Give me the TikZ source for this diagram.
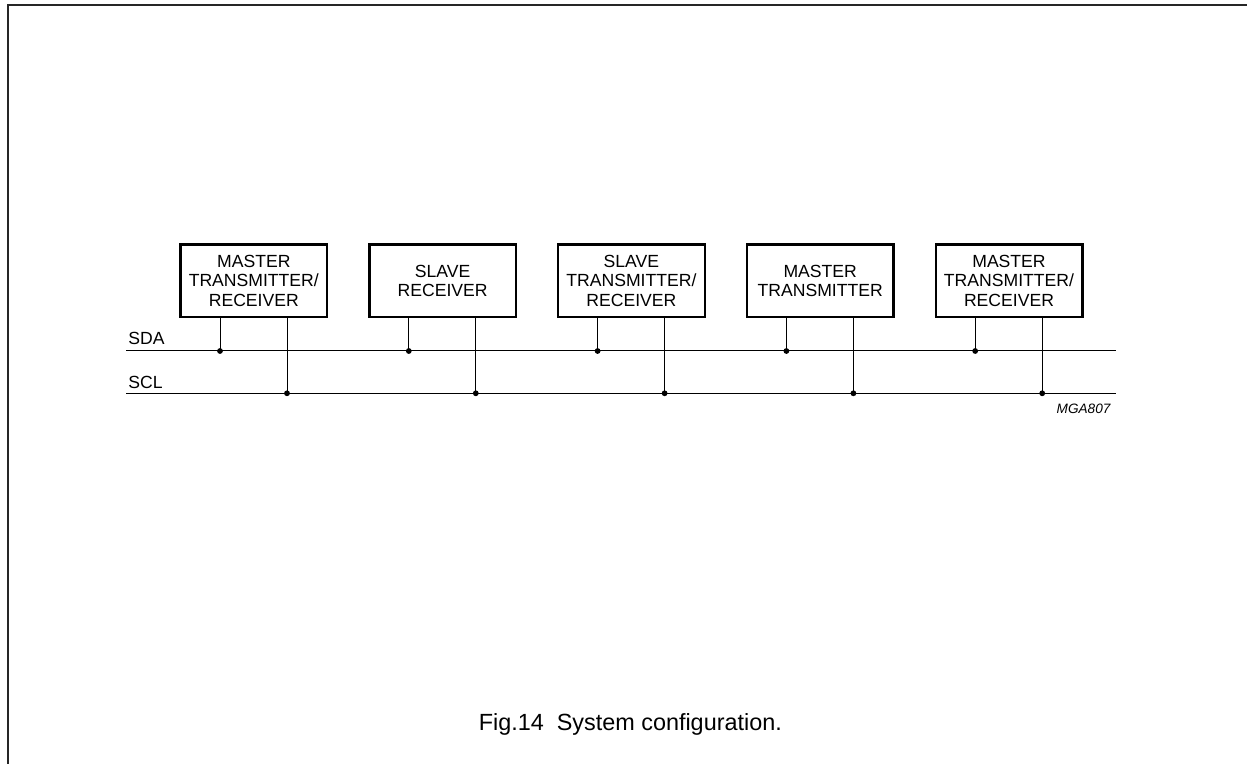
\documentclass[tikz,border=0pt]{standalone}
\usepackage{fontspec}
\setmainfont{Liberation Sans}
\usepackage{tikz}
\usetikzlibrary{positioning,calc}

\begin{document}
\begin{tikzpicture}[x=0.5pt, y=-0.5pt, node distance=19.9pt]
    \tikzstyle{dev} = [draw, line width=1.2pt, rectangle, align=center, minimum width=73.3pt, minimum height=36.3pt, inner sep=0pt, font=\fontsize{8.8pt}{9.6pt}\selectfont]
    \tikzstyle{bus} = [line width=0.5pt]
    \tikzstyle{tap} = [circle, fill=black, inner sep=0pt, minimum size=2.9pt]
    \tikzstyle{lbl} = [inner sep=0pt, font=\fontsize{8.8pt}{9.6pt}\selectfont]
    \tikzstyle{frame} = [line width=1pt, black!85]

    \useasboundingbox (0,0) rectangle (1247,764);
    \draw [frame] (1247,5.5) -- (7.5,5.5) -- (7.5,764);

    % devices on the bus
    \node [dev] (m1) at (253.8,280.8) {MASTER\\TRANSMITTER/\\RECEIVER};
    \node [dev, right=of m1] (s2) {SLAVE\\RECEIVER};
    \node [dev, right=of s2] (s3) {SLAVE\\TRANSMITTER/\\RECEIVER};
    \node [dev, right=of s3] (m4) {MASTER\\TRANSMITTER};
    \node [dev, right=of m4] (m5) {MASTER\\TRANSMITTER/\\RECEIVER};

    % bus lines
    \coordinate (sdaL) at (126,351);
    \coordinate (sdaR) at (1116,351);
    \coordinate (sclL) at (126,393.3);
    \coordinate (sclR) at (1116,393.3);
    \draw [bus] (sdaL) -- (sdaR);
    \draw [bus] (sclL) -- (sclR);
    \node [lbl, anchor=base west] (sda) at ([xshift=1pt, yshift=3.4pt]sdaL) {SDA};
    \node [lbl, anchor=base west] (scl) at ([xshift=1pt, yshift=2.5pt]sclL) {SCL};

    \foreach \d in {m1,s2,s3,m4,m5} {
        \draw [bus] ([xshift=-16.9pt]\d.south) -- ([xshift=-16.9pt]\d.south |- sdaL) node [tap] (sda-\d) {};
        \draw [bus] ([xshift=16.6pt]\d.south) -- ([xshift=16.6pt]\d.south |- sclL) node [tap] (scl-\d) {};
    }

    \node [inner sep=0pt, anchor=base east, font=\fontsize{6.8pt}{8pt}\selectfont\itshape] (code) at ([xshift=-2.6pt, yshift=-10pt]sclR) {MGA807};
    \node [inner sep=0pt, anchor=base, font=\fontsize{11.7pt}{14pt}\selectfont] (caption) at (630.3,730.7) {Fig.14\ \ System configuration.};
\end{tikzpicture}
\end{document}
